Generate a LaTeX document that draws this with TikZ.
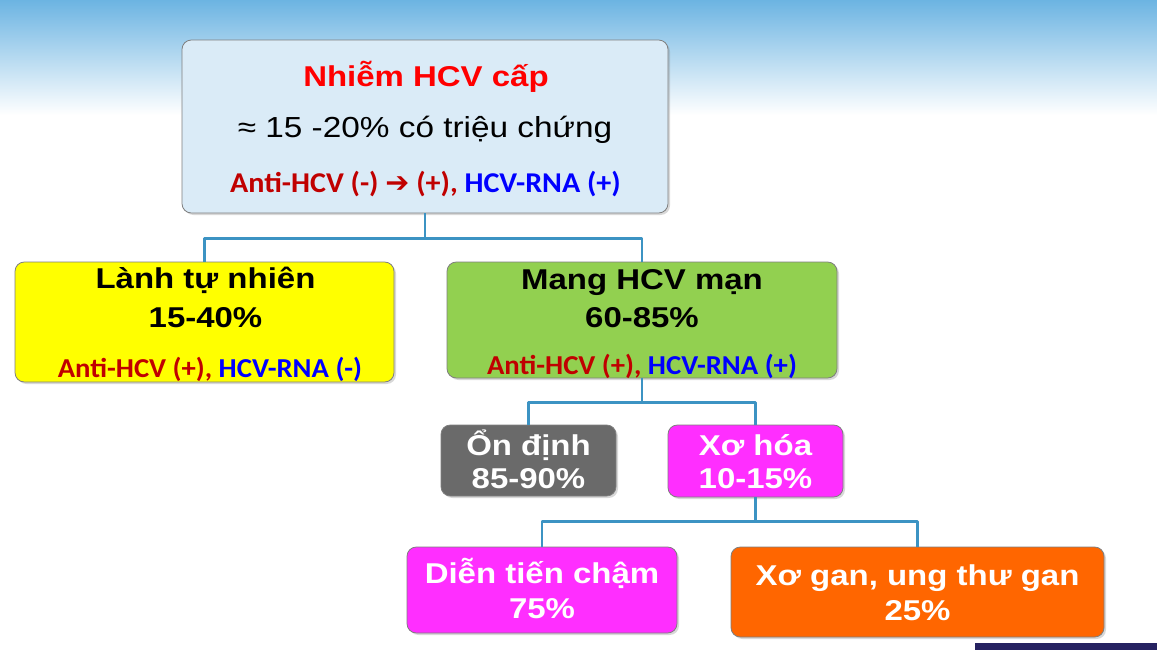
\documentclass[tikz,border=0pt]{standalone}
\usepackage{fontspec}
\setmainfont{Liberation Sans}
\newfontfamily\widesans[FakeStretch=1.15]{Liberation Sans}
\newfontfamily\calwide[FakeStretch=1.05]{Carlito}
\newfontfamily\arrowfont{DejaVu Sans}
\usetikzlibrary{fit,shadows}
\definecolor{skyblue}{HTML}{6CB4E2}
\definecolor{paleblue}{HTML}{DAEBF7}
\definecolor{pureyellow}{HTML}{FFFF00}
\definecolor{limegreen}{HTML}{92D050}
\definecolor{slategray}{HTML}{6A6A6A}
\definecolor{hotmagenta}{HTML}{FF2EFF}
\definecolor{deeporange}{HTML}{FF6600}
\definecolor{linkblue}{HTML}{3C93C3}
\definecolor{boxline}{HTML}{7F7F7F}
\definecolor{darkred}{HTML}{C00000}
\definecolor{pureblue}{HTML}{0000FF}
\definecolor{purered}{HTML}{FF0000}
\definecolor{navybar}{HTML}{262261}
\tikzset{x=0.75pt,y=-0.75pt,
every picture/.append style={
    line join=round,
    line cap=round
  },
  box/.style={draw=boxline,line width=0.6pt,rounded corners=7pt,inner sep=0pt,
    drop shadow={opacity=0.3,shadow xshift=1.5pt,shadow yshift=-1.5pt}},
  link/.style={draw=linkblue,line width=2.2pt,line cap=butt},
  big/.style={anchor=base,inner sep=0pt,font=\widesans\bfseries\fontsize{21.5}{24}\selectfont},
  plain/.style={anchor=base,inner sep=0pt,font=\widesans\fontsize{21.75}{24}\selectfont},
  lab/.style={anchor=base,inner sep=0pt,font=\calwide\bfseries\fontsize{20.5}{24}\selectfont},
  toplab/.style={anchor=base,inner sep=0pt,font=\calwide\bfseries\fontsize{21.5}{24}\selectfont}}

\begin{document}
\begin{tikzpicture}
        \useasboundingbox (0,0) rectangle (1157,650);
        \fill [white] (0,0) rectangle (1157,650);
        \shade [top color=skyblue,bottom color=white] (0,0) rectangle (1157,115);
        \fill [navybar] (975,643) rectangle (1157,650);
        \node [box,fill=paleblue,fit={(182,40) (668,213)}] (acute) {};
        \node [box,fill=pureyellow,fit={(15,262) (394,382)}] (heal) {};
        \node [box,fill=limegreen,fit={(447,262) (837,378)}] (chronic) {};
        \node [box,fill=slategray,fit={(441,425) (616,496)}] (stable) {};
        \node [box,fill=hotmagenta,fit={(668,425) (843,497)}] (fibro) {};
        \node [box,fill=hotmagenta,fit={(407,547) (677,633)}] (slow) {};
        \node [box,fill=deeporange,fit={(731,547) (1104,637)}] (cirrh) {};
        \draw [link] (acute.south) -- ++(0,25) coordinate (j1);
        \draw [link] (heal.north) |- (j1) -| (chronic.north);
        \draw [link] (chronic.south) -- ++(0,24) coordinate (j2);
        \draw [link] (stable.north) |- (j2) -| (fibro.north);
        \draw [link] (fibro.south) -- ++(0,24) coordinate (j3);
        \draw [link] (slow.north) |- (j3) -| (cirrh.north);
        \node [big,text=purered] (acuteA) at (426,86) {Nhiễm HCV cấp};
        \node [plain] (acuteB) at (425,137) {≈ 15 -20\% có triệu chứng};
        \node [toplab] (acuteC) at (425.5,192) {\textcolor{darkred}{Anti-HCV (-) {\arrowfont\bfseries ➔} (+),} \textcolor{pureblue}{HCV-RNA (+)}};
        \node [big] (healA) at (205.5,288) {Lành tự nhiên};
        \node [big] (healB) at (205.5,327) {15-40\%};
        \node [lab] (healC) at (210,377) {\textcolor{darkred}{Anti-HCV (+),} \textcolor{pureblue}{HCV-RNA (-)}};
        \node [big] (chronicA) at (642,289) {Mang HCV mạn};
        \node [big] (chronicB) at (642,327) {60-85\%};
        \node [lab] (chronicC) at (642,374) {\textcolor{darkred}{Anti-HCV (+),} \textcolor{pureblue}{HCV-RNA (+)}};
        \node [big,text=white] (stableA) at (528.5,455) {Ổn định};
        \node [big,text=white] (stableB) at (528.5,488) {85-90\%};
        \node [big,text=white] (fibroA) at (755.5,455) {Xơ hóa};
        \node [big,text=white] (fibroB) at (755.5,488) {10-15\%};
        \node [big,text=white] (slowA) at (542,583) {Diễn tiến chậm};
        \node [big,text=white] (slowB) at (542,618) {75\%};
        \node [big,text=white] (cirrhA) at (917.5,585) {Xơ gan, ung thư gan};
        \node [big,text=white] (cirrhB) at (917.5,620) {25\%};
    \end{tikzpicture}
\end{document}
